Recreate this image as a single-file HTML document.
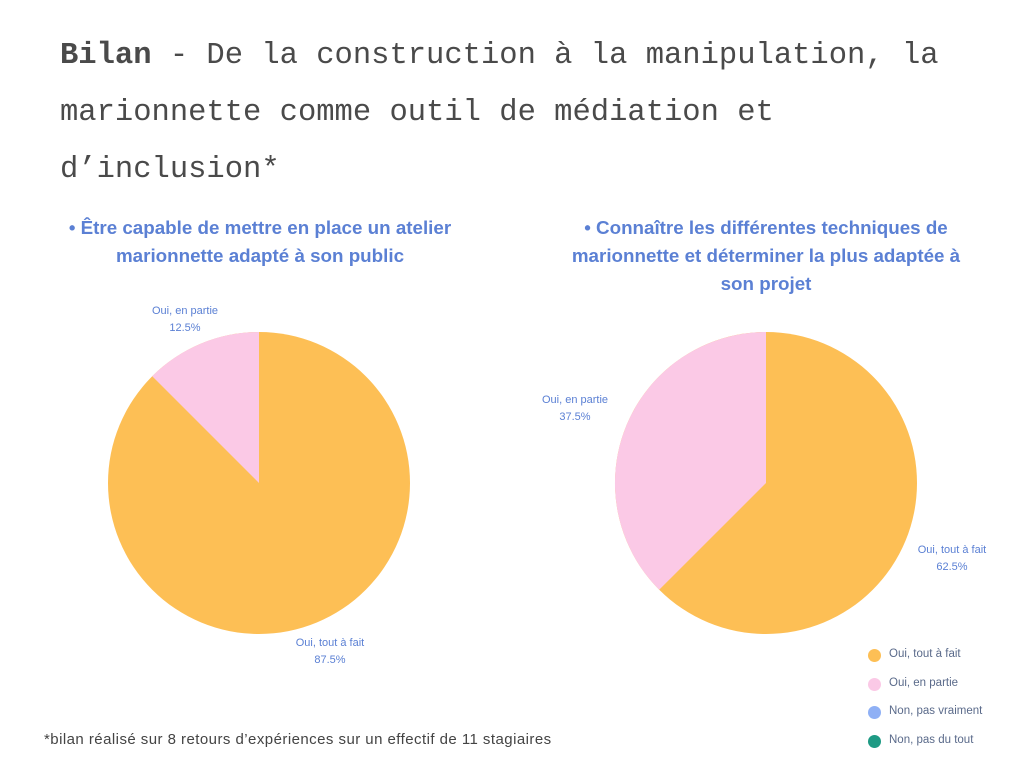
<!DOCTYPE html>
<html><head><meta charset="utf-8"><style>
body{margin:0;width:1024px;height:768px;background:#fff;position:relative;overflow:hidden;font-family:"Liberation Sans",sans-serif}
.t{position:absolute;left:60px;top:28px;font-family:"Liberation Mono",monospace;font-size:30.5px;line-height:57px;color:#4a4a4a;width:960px}
.s{position:absolute;text-align:center;color:#5b80d4;font-weight:bold;font-size:18.8px;line-height:28px;white-space:nowrap}
.l{position:absolute;text-align:center;color:#5b80d4;font-size:11px;line-height:17px}
.g{position:absolute;left:868px;font-size:11.5px;color:#5a6a8a}
.g i{position:absolute;left:0;width:13px;height:13px;border-radius:50%}
.g span{position:absolute;left:21px;top:-1px;white-space:nowrap}
.f{position:absolute;left:44px;top:731px;font-size:15px;letter-spacing:0.45px;color:#444;white-space:nowrap}
</style></head><body>
<div class="t"><b>Bilan</b> - De la construction à la manipulation, la<br>marionnette comme outil de médiation et<br>d’inclusion*</div>
<div class="s" style="left:20px;width:480px;top:214px">• Être capable de mettre en place un atelier<br>marionnette adapté à son public</div>
<div class="s" style="left:526px;width:480px;top:214px">• Connaître les différentes techniques de<br>marionnette et déterminer la plus adaptée à<br>son projet</div>
<svg width="1024" height="768" style="position:absolute;left:0;top:0">
<circle cx="259" cy="483" r="151" fill="#fdbf55"/>
<path d="M259 483 L152.2 376.2 A151 151 0 0 1 259 332 Z" fill="#fbc9e6"/>
<circle cx="766" cy="483" r="151" fill="#fdbf55"/>
<path d="M766 483 L659.2 589.8 A151 151 0 0 1 766 332 Z" fill="#fbc9e6"/>
</svg>
<div class="l" style="left:145px;width:80px;top:303px">Oui, en partie<br>12.5%</div>
<div class="l" style="left:270px;width:120px;top:635px">Oui, tout à fait<br>87.5%</div>
<div class="l" style="left:535px;width:80px;top:392px">Oui, en partie<br>37.5%</div>
<div class="l" style="left:892px;width:120px;top:542px">Oui, tout à fait<br>62.5%</div>
<div class="g" style="top:649px"><i style="background:#fdbf55"></i><span>Oui, tout à fait</span></div>
<div class="g" style="top:678px"><i style="background:#fbc9e6"></i><span>Oui, en partie</span></div>
<div class="g" style="top:706px"><i style="background:#8fb0f5"></i><span>Non, pas vraiment</span></div>
<div class="g" style="top:735px"><i style="background:#1e9a84"></i><span>Non, pas du tout</span></div>
<div class="f">*bilan réalisé sur 8 retours d’expériences sur un effectif de 11 stagiaires</div>
</body></html>
